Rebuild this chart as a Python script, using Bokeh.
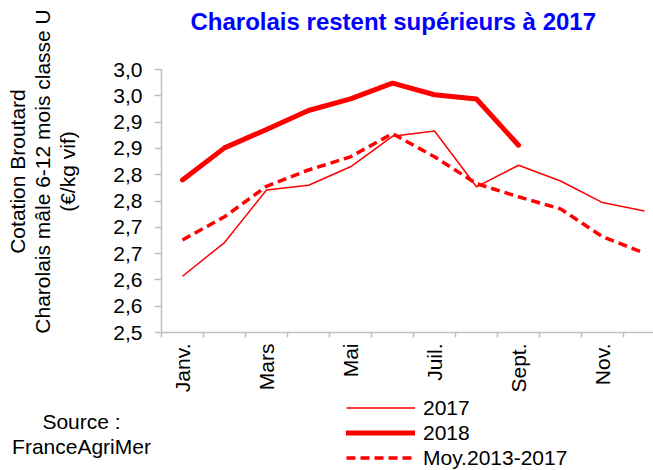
import math
from bokeh.plotting import figure
from bokeh.layouts import column
from bokeh.models import Range1d, FixedTicker, Legend, LegendItem, Title, Label
from bokeh.embed import file_html
from bokeh.resources import INLINE

# ---------------- data ----------------
months = ["Janv.", "Févr.", "Mars", "Avr.", "Mai", "Juin",
          "Juil.", "Août", "Sept.", "Oct.", "Nov.", "Déc."]
shown_months = ["Janv.", "Mars", "Mai", "Juil.", "Sept.", "Nov."]

v2017 = [2.607, 2.671, 2.771, 2.780, 2.815, 2.873, 2.883, 2.777, 2.818, 2.788, 2.747, 2.731]
v2018 = [2.790, 2.851, 2.886, 2.922, 2.944, 2.974, 2.952, 2.944, 2.856]
vmoy = [2.676, 2.720, 2.778, 2.809, 2.834, 2.878, 2.834, 2.783, 2.758, 2.735, 2.682, 2.651]

y_ticks = [2.5, 2.55, 2.6, 2.65, 2.7, 2.75, 2.8, 2.85, 2.9, 2.95, 3.0]
y_tick_labels = ["2,5", "2,6", "2,6", "2,7", "2,7", "2,8", "2,8", "2,9", "2,9", "3,0", "3,0"]

series_names = ["2017", "2018", "Moy.2013-2017"]
title_text = "Charolais restent supérieurs à 2017"
y_title_lines = ["Cotation Broutard", "Charolais mâle 6-12 mois classe U", "(€/kg vif)"]
source_lines = ["Source :", "FranceAgriMer"]

# ---------------- styling ----------------
FONT = "Liberation Sans"
RED = "#FF0000"
GREY = "#BFBFBF"
W = 653
H_MAIN, H_FOOT = 395, 75
FRAME_L, FRAME_T, FRAME_B = 161, 69, 333
PX_PER_CAT = 42.0
STYLE17 = dict(line_color=RED, line_width=1.5, line_join="round")
STYLE18 = dict(line_color=RED, line_width=5, line_join="round", line_cap="round")
STYLEMOY = dict(line_color=RED, line_width=3.5, line_dash="9 5")

xpos = [i + 0.5 for i in range(len(months))]

# ---------------- main chart ----------------
p = figure(width=W, height=H_MAIN, title=None,
           x_range=Range1d(0, (W - FRAME_L) / PX_PER_CAT), y_range=Range1d(2.5, 3.0),
           output_backend="svg", toolbar_location=None,
           min_border_left=FRAME_L, min_border_right=0,
           min_border_top=FRAME_T, min_border_bottom=H_MAIN - FRAME_B)
p.outline_line_color = None
p.grid.visible = False
p.background_fill_color = "white"
p.border_fill_color = "white"

# x axis : tick marks between months, labels every other month
xa = p.xaxis[0]
month_pos = [xpos[months.index(m)] for m in shown_months]
xa.ticker = FixedTicker(ticks=month_pos, minor_ticks=list(range(len(months))))
xa.major_label_overrides = {pos: m for pos, m in zip(month_pos, shown_months)}
xa.major_tick_line_color = None
xa.major_tick_in = 0
xa.major_tick_out = 5
xa.minor_tick_in = 0
xa.minor_tick_out = 5
xa.minor_tick_line_color = GREY
xa.minor_tick_line_width = 1.5
xa.axis_line_color = GREY
xa.axis_line_width = 1.5
xa.major_label_orientation = math.pi / 2
xa.major_label_standoff = 6
xa.major_label_text_font = FONT
xa.major_label_text_font_size = "21px"
xa.major_label_text_color = "black"

# y axis
ya = p.yaxis[0]
ya.ticker = FixedTicker(ticks=y_ticks)
ya.major_label_overrides = dict(zip(y_ticks, y_tick_labels))
ya.major_tick_in = 0
ya.major_tick_out = 7
ya.major_tick_line_color = GREY
ya.major_tick_line_width = 1.5
ya.minor_tick_line_color = None
ya.axis_line_color = GREY
ya.axis_line_width = 1.5
ya.major_label_standoff = 12
ya.major_label_text_font = FONT
ya.major_label_text_font_size = "21px"
ya.major_label_text_color = "black"
# invisible spacer label that pushes the y-title lines outward
ya.axis_label = " "
ya.axis_label_text_font_size = "1px"
ya.axis_label_standoff = 28

# y title lines (outermost added last)
for line, off in zip(reversed(y_title_lines), [120.7, -1.2, 78.7]):
    p.add_layout(Title(text=line, align="left", offset=off, standoff=0,
                       text_font=FONT, text_font_size="21px",
                       text_font_style="normal", text_color="black"), "left")

# chart title (spacer first, closest to the frame)
p.add_layout(Title(text=" ", text_font_size="1px", standoff=32), "above")
p.add_layout(Title(text=title_text, align="left", offset=29, standoff=0,
                   text_font=FONT, text_font_size="24px", text_font_style="bold",
                   text_color="#0000FF"), "above")

# series
p.line(xpos, v2017, **STYLE17)
p.line(xpos[:len(v2018)], v2018, **STYLE18)
p.line(xpos, vmoy, **STYLEMOY)

# ---------------- footer: source note + legend ----------------
f = figure(width=W, height=H_FOOT, title=None,
           x_range=Range1d(0, W), y_range=Range1d(H_FOOT, 0),
           x_axis_type=None, y_axis_type=None,
           output_backend="svg", toolbar_location=None, min_border=0)
f.outline_line_color = None
f.grid.visible = False
f.background_fill_color = "white"
f.border_fill_color = "white"

# do not align the footer's frame with the chart's frame
for fig in (p, f):
    if "frame_align" in fig.properties():
        fig.frame_align = False

# legend proxies (hidden copies of the series, only used for the legend keys)
k17 = f.line(xpos, v2017, visible=False, **STYLE17)
k18 = f.line(xpos[:len(v2018)], v2018, visible=False, **STYLE18)
kmoy = f.line(xpos, vmoy, visible=False, **STYLEMOY)

legend = Legend(
    items=[LegendItem(label=series_names[0], renderers=[k17]),
           LegendItem(label=series_names[1], renderers=[k18]),
           LegendItem(label=series_names[2], renderers=[kmoy])],
    location=(346, 0), orientation="vertical",
    glyph_width=69, glyph_height=25, label_height=25,
    spacing=0, padding=0, margin=0, label_standoff=8,
    border_line_color=None, background_fill_alpha=0,
    label_text_font=FONT, label_text_font_size="21px", label_text_color="black")
f.add_layout(legend)

for line, base in zip(source_lines, [26, 51]):
    f.add_layout(Label(x=81, y=base, text=line, text_align="center",
                       text_baseline="alphabetic", text_font=FONT,
                       text_font_size="21px", text_color="black"))

open("out.html", "w").write(file_html(column(p, f), INLINE))
